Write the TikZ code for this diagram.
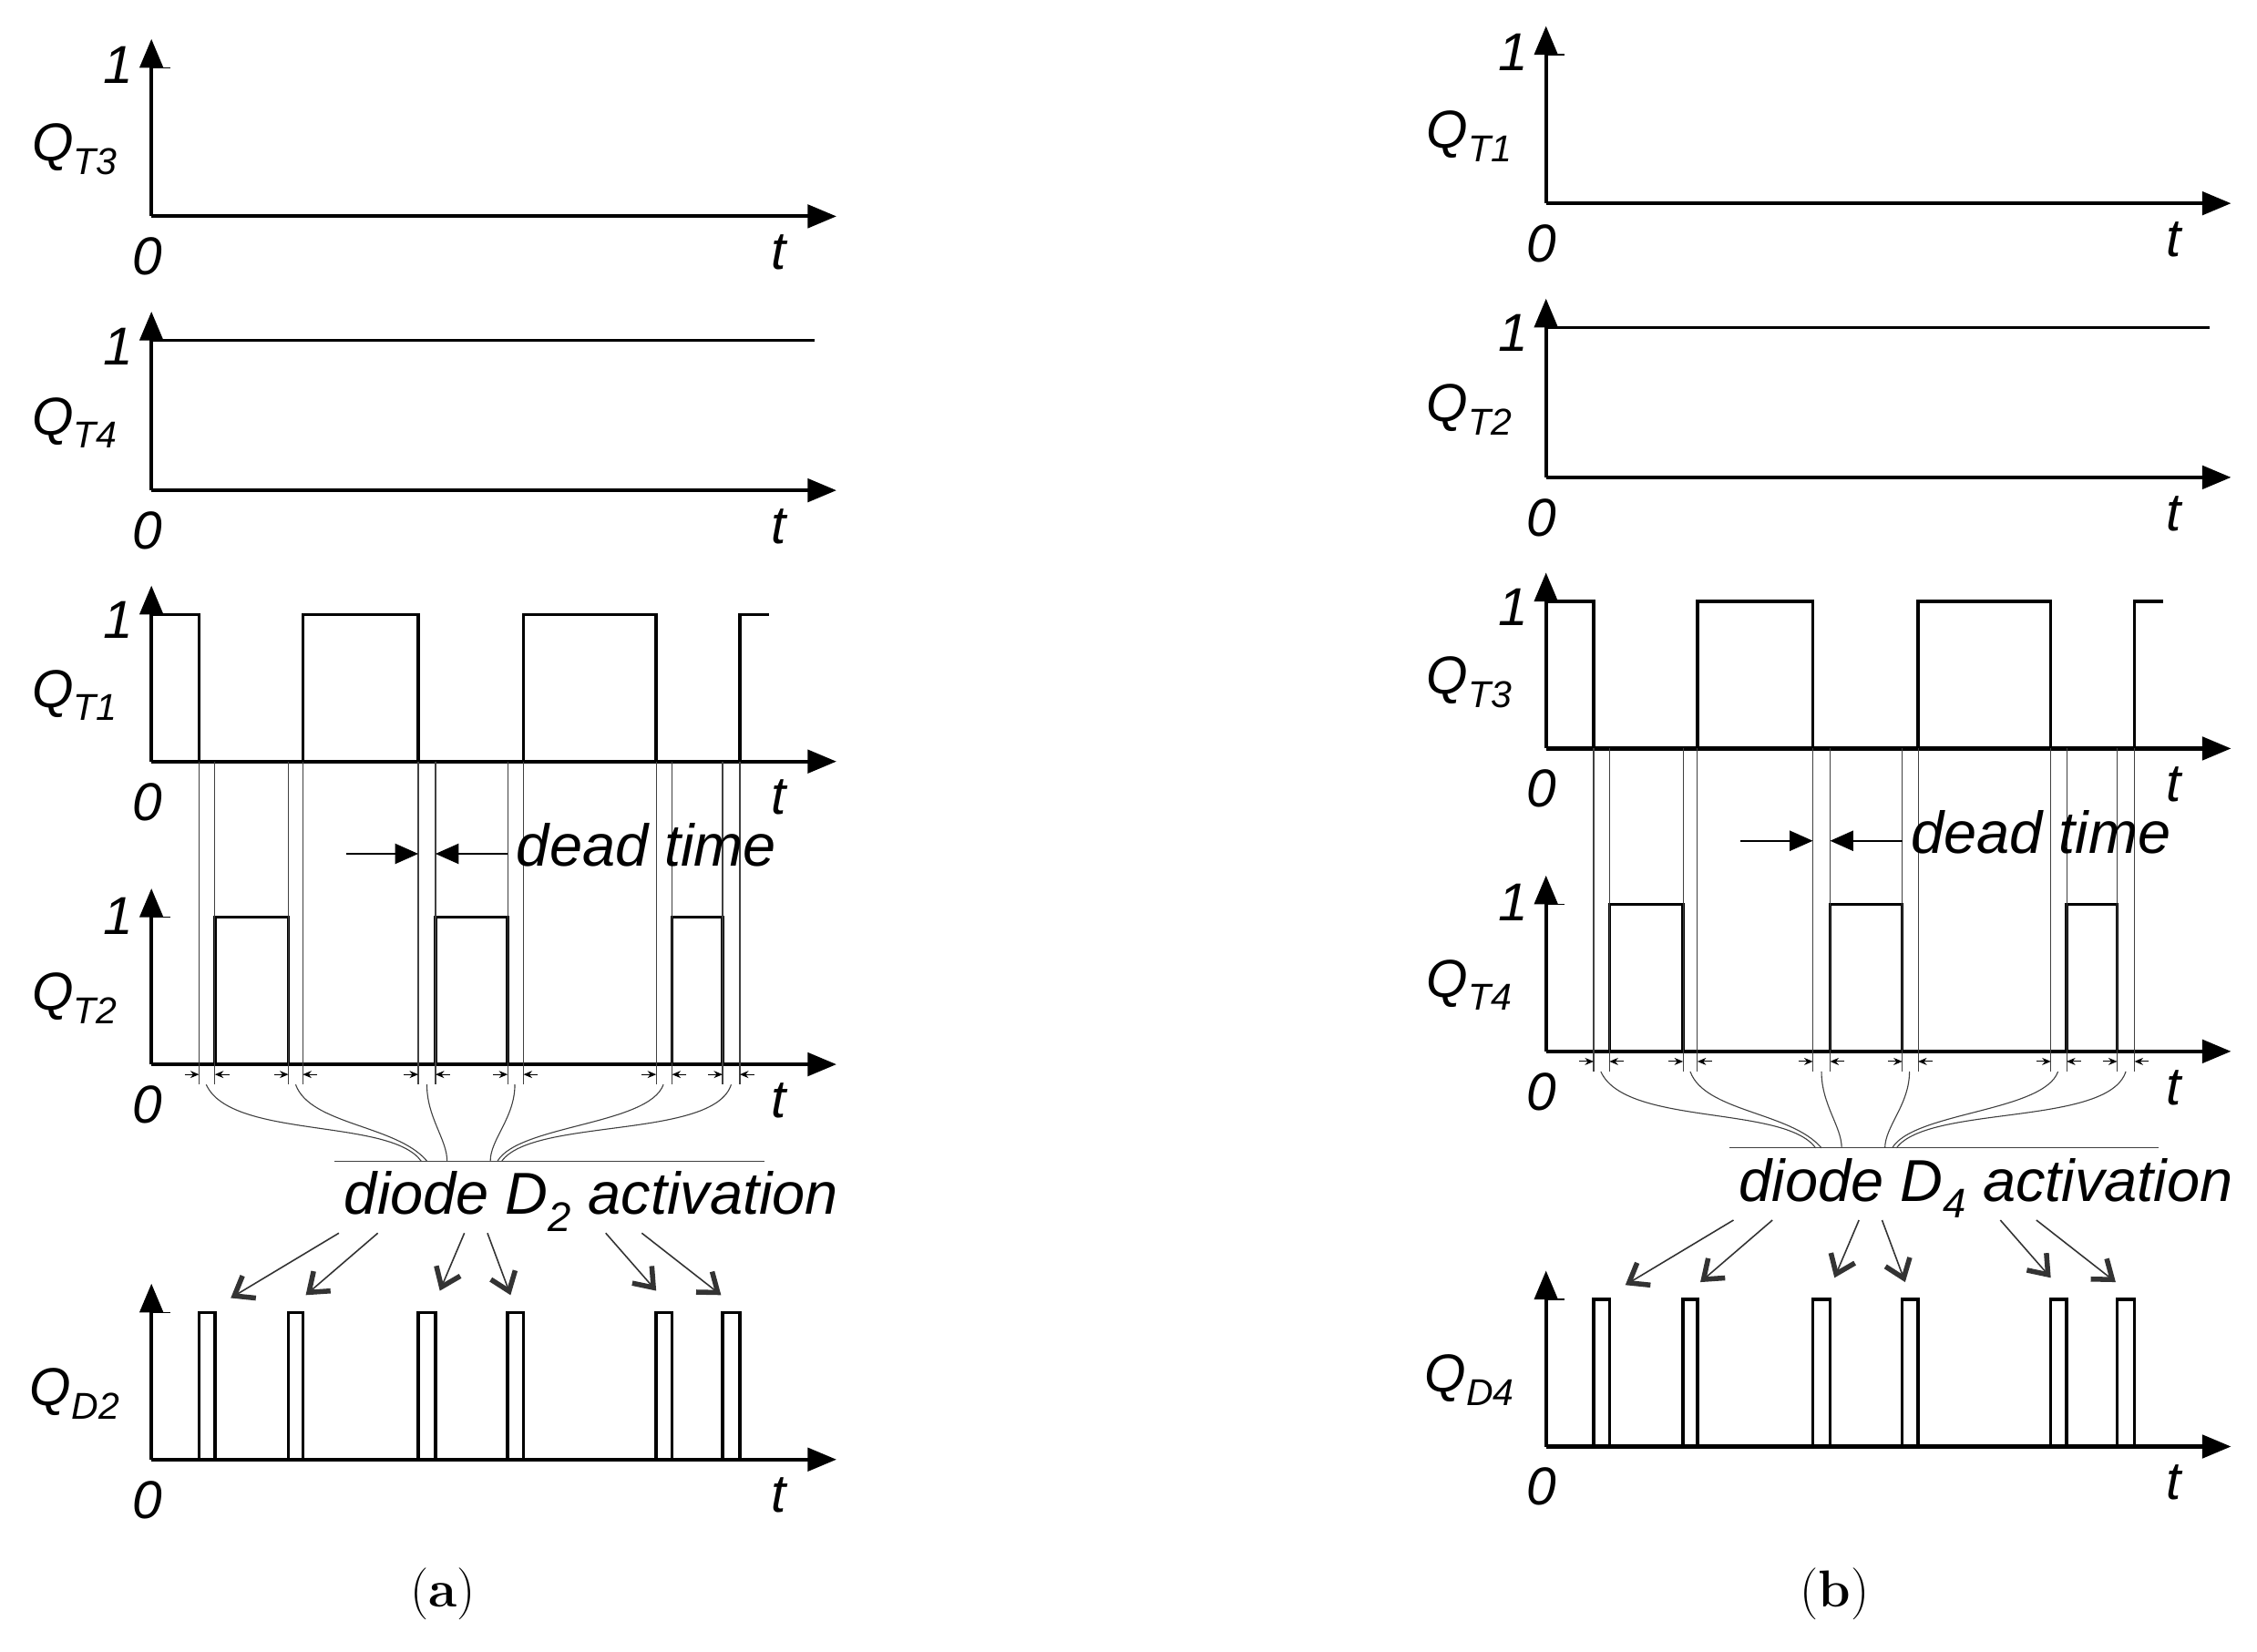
\documentclass[tikz,border=0pt]{standalone}
\usepackage{fontspec}
\setmainfont{Liberation Sans}
\newfontfamily\serif{Latin Modern Roman}
\usetikzlibrary{arrows.meta}
\begin{document}
\begin{tikzpicture}[x=1pt,y=-1pt,
 ax/.style={line width=2.6pt,-{Triangle[length=20pt,width=16pt]}},
 sig/.style={line width=2.2pt},
 thin/.style={line width=0.7pt,gray!50!black},
 lbl/.style={font=\fontsize{37}{40}\selectfont\itshape,inner sep=0pt},
 big/.style={font=\fontsize{41}{46}\selectfont\itshape,inner sep=0pt},
 dar/.style={line width=1pt,black!80,-{Straight Barb[length=12pt,width=18pt,line width=3.5pt]}},
 mk/.style={line width=0.6pt,-{Stealth[length=6pt,width=5pt]}}]
\useasboundingbox (0,0) rectangle (1565,1145);
\newcommand{\axes}[4]{% top y, baseline y, label, name
 \draw[ax] (105,#2) -- (105,#1-20);
 \draw[ax] (105,#2) -- (580,#2);
 \draw[line width=1pt] (105,#1) -- (118,#1);
 \node[lbl] (#4o) at (102,#2+28) {0};
 \node[lbl] (#4t) at (540,#2+25) {t};
 \node[lbl] (#4q) at ({52},{#1+(#2-#1)*0.55}) {Q\textsubscript{#3}};}
\newcommand{\panel}[2]{% dx, dy
\begin{scope}[shift={(#1,#2)}]
 \axes{47}{150}{\ifnum#1=0 T3\else T1\fi}{p1}
 \node[lbl] (p1i) at (82,45) {1};
 \axes{236}{340}{\ifnum#1=0 T4\else T2\fi}{p2}
 \node[lbl] (p2i) at (82,240) {1};
 \draw[sig] (105,236) -- (565,236);
 \axes{426}{528}{\ifnum#1=0 T1\else T3\fi}{p3}
 \node[lbl] (p3i) at (82,430) {1};
 \draw[sig] (105,426) -- (138,426) -- (138,528) -- (210,528) -- (210,426) -- (290,426) -- (290,528) -- (363,528) -- (363,426) -- (455,426) -- (455,528) -- (513,528) -- (513,426) -- (533,426);
 \axes{636}{738}{\ifnum#1=0 T2\else T4\fi}{p4}
 \node[lbl] (p4i) at (82,635) {1};
 \draw[sig] (105,738) -- (149,738) -- (149,636) -- (200,636) -- (200,738) -- (302,738) -- (302,636) -- (352,636) -- (352,738) -- (466,738) -- (466,636) -- (501,636) -- (501,738);
 \foreach \x in {138,149,200,210,290,302,352,363,455,466,501,513} \draw[thin] (\x,528) -- (\x,752);
 \foreach \a/\b in {138/149,200/210,290/302,352/363,455/466,501/513}{
   \draw[mk] (\a-10,745) -- (\a,745); \draw[mk] (\b+10,745) -- (\b,745);}
 \coordinate (dl) at (240,592); \coordinate (dr) at (352,592);
 \draw[line width=1pt,-{Triangle[length=16pt,width=14pt]}] (dl) -- (290,592);
 \draw[line width=1pt,-{Triangle[length=16pt,width=14pt]}] (dr) -- (302,592);
 \node[big,anchor=west] (dt) at (358,586) {dead time};
 \draw[thin] (232,805) -- (530,805);
 \draw[thin] (143,752) .. controls (160,790) and (270,775) .. (292,805);
 \draw[thin] (205,752) .. controls (215,780) and (275,780) .. (296,805);
 \draw[thin] (296,752) .. controls (296,775) and (310,790) .. (310,805);
 \draw[thin] (357,752) .. controls (357,775) and (340,790) .. (340,805);
 \draw[thin] (460,752) .. controls (450,780) and (360,780) .. (345,805);
 \draw[thin] (507,752) .. controls (495,790) and (370,775) .. (348,805);
 \node[big] (dd) at (410,833) {diode D\textsubscript{\ifnum#1=0 2\else 4\fi} activation};
 \draw[dar] (235,855) -- (160,900);
 \draw[dar] (262,855) -- (212,898);
 \draw[dar] (322,855) -- (305,895);
 \draw[dar] (338,855) -- (354,898);
 \draw[dar] (420,855) -- (455,895);
 \draw[dar] (445,855) -- (500,898);
 \axes{910}{1012}{\ifnum#1=0 D2\else D4\fi}{p5}
 \draw[sig] (105,1012) -- (138,1012) -- (138,910) -- (149,910) -- (149,1012) -- (200,1012) -- (200,910) -- (210,910) -- (210,1012) -- (290,1012) -- (290,910) -- (302,910) -- (302,1012) -- (352,1012) -- (352,910) -- (363,910) -- (363,1012) -- (455,1012) -- (455,910) -- (466,910) -- (466,1012) -- (501,1012) -- (501,910) -- (513,910) -- (513,1012);
\end{scope}}
\panel{0}{0}
\panel{967}{-9}
\node[font=\serif\fontsize{36}{40}\selectfont] (ca) at (307,1105) {(\textbf{a})};
\node[font=\serif\fontsize{36}{40}\selectfont] (cb) at (1272,1105) {(\textbf{b})};
\end{tikzpicture}
\end{document}
